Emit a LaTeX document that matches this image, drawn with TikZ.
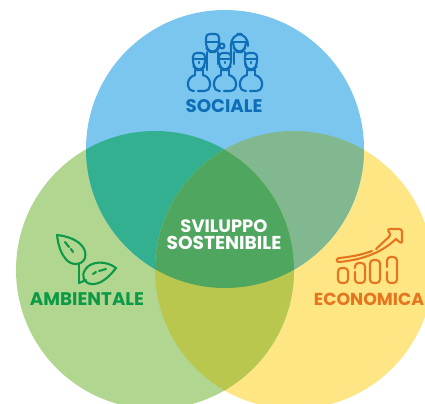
\documentclass[tikz,border=0pt]{standalone}
\usepackage{xcolor}
\usepackage{fontspec}
\newfontfamily\labelfont{Poppins}
\usepackage{tikz}

\definecolor{socialeblue}{HTML}{7AC6EE}
\definecolor{ambientegreen}{HTML}{B0D68F}
\definecolor{economiayellow}{HTML}{FEE685}
\definecolor{bluegreen}{HTML}{33B08F}
\definecolor{blueyellow}{HTML}{82B88F}
\definecolor{greenyellow}{HTML}{BAC74F}
\definecolor{centergreen}{HTML}{4FA65F}
\definecolor{socialeink}{HTML}{0E6FB8}
\definecolor{ambienteink}{HTML}{0D9A48}
\definecolor{economiaink}{HTML}{E5751F}

\newcommand{\topcircle}{(225,149) circle [radius=139]}
\newcommand{\leftcircle}{(155,270) circle [radius=139]}
\newcommand{\rightcircle}{(294,270) circle [radius=139]}

\tikzset{
  heading/.style={font=\labelfont\bfseries\fontsize{#1}{#1}\selectfont,inner sep=0pt},
  icon/.style={line width=1.2pt,line cap=round,line join=round},
  person/.pic={
    \draw[rounded corners=2pt] (-6,-3) -- (-6,-9) -- (6,-9) -- (6,-3);
    \draw (-6,-3) -- (6,-3);
    \draw[rounded corners=3pt] (-6,-3) -- (-6,4) -- (-2,8) -- (2,8) -- (6,4) -- (6,-3);
    \draw (0,0) -- (0,1);
    \draw (-4,8) -- (-4,13) (4,8) -- (4,13);
    \draw[rounded corners=3pt] (-4,13) -- (-11,16) -- (-11,29) -- (-5,29);
    \draw[rounded corners=3pt] (-1,29) -- (11,29) -- (11,16) -- (4,13);
  },
}

\begin{document}
\begin{tikzpicture}[x=0.02cm,y=-0.02cm]
  \useasboundingbox (0,0) rectangle (425,403);
  \clip (0,0) rectangle (425,403);

  % circles
  \fill[economiayellow] \rightcircle;
  \fill[ambientegreen] \leftcircle;
  \fill[socialeblue] \topcircle;

  % overlaps
  \begin{scope}
    \clip \topcircle;
    \fill[bluegreen] \leftcircle;
    \fill[blueyellow] \rightcircle;
  \end{scope}
  \begin{scope}
    \clip \leftcircle;
    \fill[greenyellow] \rightcircle;
  \end{scope}
  \begin{scope}
    \clip \topcircle;
    \clip \leftcircle;
    \fill[centergreen] \rightcircle;
  \end{scope}

  % labels
  \node[heading=10.4,text=socialeink] (sociale) at (224,106) {SOCIALE};
  \node[heading=10.4,text=ambienteink] (ambientale) at (87,299) {AMBIENTALE};
  \node[heading=9.9,text=economiaink] (economica) at (369,299) {ECONOMICA};
  \node[heading=10.2,text=white] (sviluppo) at (224,226.5) {SVILUPPO};
  \node[heading=10.6,text=white] (sostenibile) at (224,242.5) {SOSTENIBILE};

  % people
  \begin{scope}[icon,draw=socialeink]
    \draw[rounded corners=2pt] (206,42) -- (206,34) -- (219,34) -- (219,42);
    \draw (206,42) -- (219,42);
    \draw[rounded corners=3pt] (206,42) -- (206,48) -- (210,52) -- (215,52) -- (219,48) -- (219,42);
    \draw (222,46) circle [radius=2.5];
    \draw (207,52) -- (207,70) (218,52) -- (218,64);
    \draw[rounded corners=6pt] (231,56) -- (231,34) -- (248,34) -- (248,46);
    \draw[rounded corners=3pt] (233,42) -- (233,47) -- (237,52) -- (242,52) -- (246,47) -- (246,42);
    \draw (233,42) -- (246,42);
    \draw (234,52) -- (234,64) (245,52) -- (245,64);
    \pic at (199,62) {person};
    \pic at (225,62) {person};
    \pic at (251,62) {person};
  \end{scope}

  % leaves
  \begin{scope}[icon,draw=ambienteink]
    \draw (57,235) .. controls (75,237) and (88,246) .. (85,258)
      .. controls (82,266) and (70,266) .. (65,258)
      .. controls (60,252) and (58,243) .. (57,235) -- cycle;
    \draw (65,242) -- (69,247) (71,249) -- (73,252);
    \draw (79,264) -- (79,283);
    \draw (116,268) .. controls (106,260) and (90,261) .. (85,270)
      .. controls (81,276) and (84,283) .. (91,284)
      .. controls (101,285) and (110,276) .. (116,268) -- cycle;
    \draw (93,274) -- (96,272) (99,271) -- (106,269);
    \draw (79,283) -- (86,280);
  \end{scope}

  % growth chart
  \begin{scope}[icon,draw=economiaink]
    \draw (372,251) .. controls (361,255) and (350,257) .. (339,258)
      .. controls (336,259) and (336,262) .. (339,262)
      .. controls (360,260) and (380,254) .. (396,239);
    \draw[rounded corners=1.5pt] (376,249) -- (391,235) -- (387,229) -- (402,229) -- (402,244) -- (396,239);
    \draw[rounded corners=2pt] (338,268) rectangle (348,283);
    \draw[rounded corners=2pt] (355,272) -- (355,283) -- (365,283) -- (365,263) -- (355,263) -- (355,268);
    \draw[rounded corners=2pt] (370,260) rectangle (380,283);
    \draw[rounded corners=2pt] (387,272) -- (387,283) -- (397,283) -- (397,257) -- (387,257) -- (387,267);
  \end{scope}
\end{tikzpicture}
\end{document}
